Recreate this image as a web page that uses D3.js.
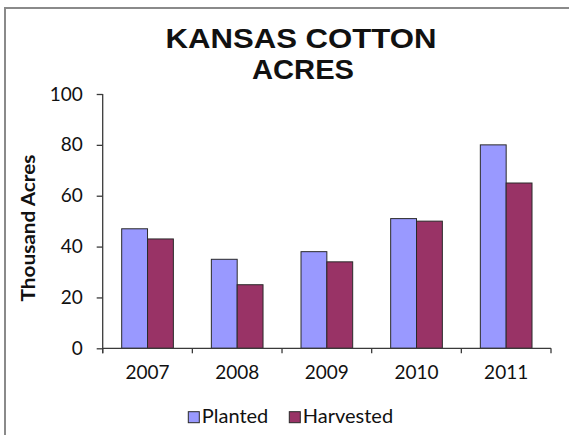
<!DOCTYPE html>
<html>
<head>
<meta charset="utf-8">
<script src="https://cdn.jsdelivr.net/npm/d3@7"></script>
<style>
  html, body { margin: 0; padding: 0; background: #fff; }
  svg { display: block; }
</style>
</head>
<body>
<div id="chart"></div>
<script>
// Chart data
const years = ["2007", "2008", "2009", "2010", "2011"];
const seriesNames = ["Planted", "Harvested"];
const planted = [47, 35, 38, 51, 80];
const harvested = [43, 25, 34, 50, 65];
const yTicks = [0, 20, 40, 60, 80, 100];
const colors = ["#9999ff", "#993366"];

const width = 569, height = 435;
const plot = { left: 102.7, right: 551, top: 94, bottom: 348.3 };

const svg = d3.select("#chart").append("svg")
    .attr("width", width)
    .attr("height", height);

// Outer frame (right and bottom run off the picture)
svg.append("rect")
    .attr("x", 5)
    .attr("y", 8)
    .attr("width", 580)
    .attr("height", 450)
    .style("fill", "#fff")
    .style("stroke", "#8a8a8a")
    .style("stroke-width", 2);

// Scales
const x = d3.scaleBand()
    .domain(years)
    .range([plot.left, plot.right])
    .padding(0);

const xSeries = d3.scaleBand()
    .domain(seriesNames)
    .range([0, x.bandwidth()])
    .paddingInner(0)
    .paddingOuter(0.735);

const y = d3.scaleLinear()
    .domain([0, 100])
    .range([plot.bottom, plot.top]);

// Table for the bars
const rows = years.map((yr, i) => ({
    year: yr,
    values: [
        { name: seriesNames[0], value: planted[i], color: colors[0] },
        { name: seriesNames[1], value: harvested[i], color: colors[1] }
    ]
}));

// Bars
const groups = svg.selectAll(".year")
    .data(rows)
    .enter()
    .append("g")
    .attr("class", "year")
    .attr("transform", d => `translate(${x(d.year)},0)`);

groups.selectAll("rect")
    .data(d => d.values)
    .enter()
    .append("rect")
    .attr("x", d => xSeries(d.name))
    .attr("y", d => y(d.value))
    .attr("width", xSeries.bandwidth())
    .attr("height", d => y(0) - y(d.value))
    .style("fill", d => d.color)
    .style("stroke", "#2a2a2a")
    .style("stroke-width", 1);

// Y axis
const yAxis = svg.append("g")
    .attr("transform", `translate(${plot.left},0)`)
    .call(d3.axisLeft(y).tickValues(yTicks).tickSize(6).tickPadding(14));

yAxis.select(".domain").attr("d", `M0,${plot.top}H0V${plot.bottom + 5}`);

// X axis: labels at band centers, tick marks at band edges
const xAxis = svg.append("g")
    .attr("transform", `translate(0,${plot.bottom})`)
    .call(d3.axisBottom(x).tickSize(0).tickPadding(17));

xAxis.select(".domain").attr("d", `M${plot.left},0H${plot.right}`);

xAxis.selectAll(".edge-tick")
    .data(years.map(yr => x(yr)).concat([plot.right]))
    .enter()
    .append("line")
    .attr("class", "edge-tick")
    .attr("x1", d => d)
    .attr("x2", d => d)
    .attr("y1", 0)
    .attr("y2", 5);

svg.selectAll(".domain, .tick line, .edge-tick")
    .style("stroke", "#3a3a3a")
    .style("stroke-width", 1.3);

svg.selectAll(".tick text")
    .style("font-family", "Lato, 'Open Sans', sans-serif")
    .style("font-size", "19px")
    .style("fill", "#111");

// Title
const title = svg.append("g")
    .style("font-family", "'Liberation Sans', Arial, sans-serif")
    .style("font-weight", "bold")
    .style("font-size", "28px")
    .style("fill", "#111")
    .attr("text-anchor", "middle");

title.append("text")
    .attr("x", 301)
    .attr("y", 47.7)
    .attr("textLength", 271)
    .attr("lengthAdjust", "spacingAndGlyphs")
    .text("KANSAS COTTON");

title.append("text")
    .attr("x", 303)
    .attr("y", 79.3)
    .attr("textLength", 102)
    .attr("lengthAdjust", "spacingAndGlyphs")
    .text("ACRES");

// Y axis title
svg.append("text")
    .attr("transform", "translate(35,228) rotate(-90)")
    .attr("text-anchor", "middle")
    .attr("textLength", 147)
    .attr("lengthAdjust", "spacingAndGlyphs")
    .style("font-family", "Lato, 'Open Sans', sans-serif")
    .style("font-weight", "bold")
    .style("font-size", "18px")
    .style("fill", "#111")
    .text("Thousand Acres");

// Legend
const legendX = [188.3, 289.3];
const legend = svg.selectAll(".legend")
    .data(seriesNames)
    .enter()
    .append("g")
    .attr("class", "legend")
    .attr("transform", (d, i) => `translate(${legendX[i]},411.7)`);

legend.append("rect")
    .attr("width", 11)
    .attr("height", 11)
    .style("fill", (d, i) => colors[i])
    .style("stroke", "#2a2a2a")
    .style("stroke-width", 1);

legend.append("text")
    .attr("x", 13.5)
    .attr("y", 11)
    .style("font-family", "Lato, 'Open Sans', sans-serif")
    .style("font-size", "20px")
    .style("fill", "#111")
    .text(d => d);
</script>
</body>
</html>
